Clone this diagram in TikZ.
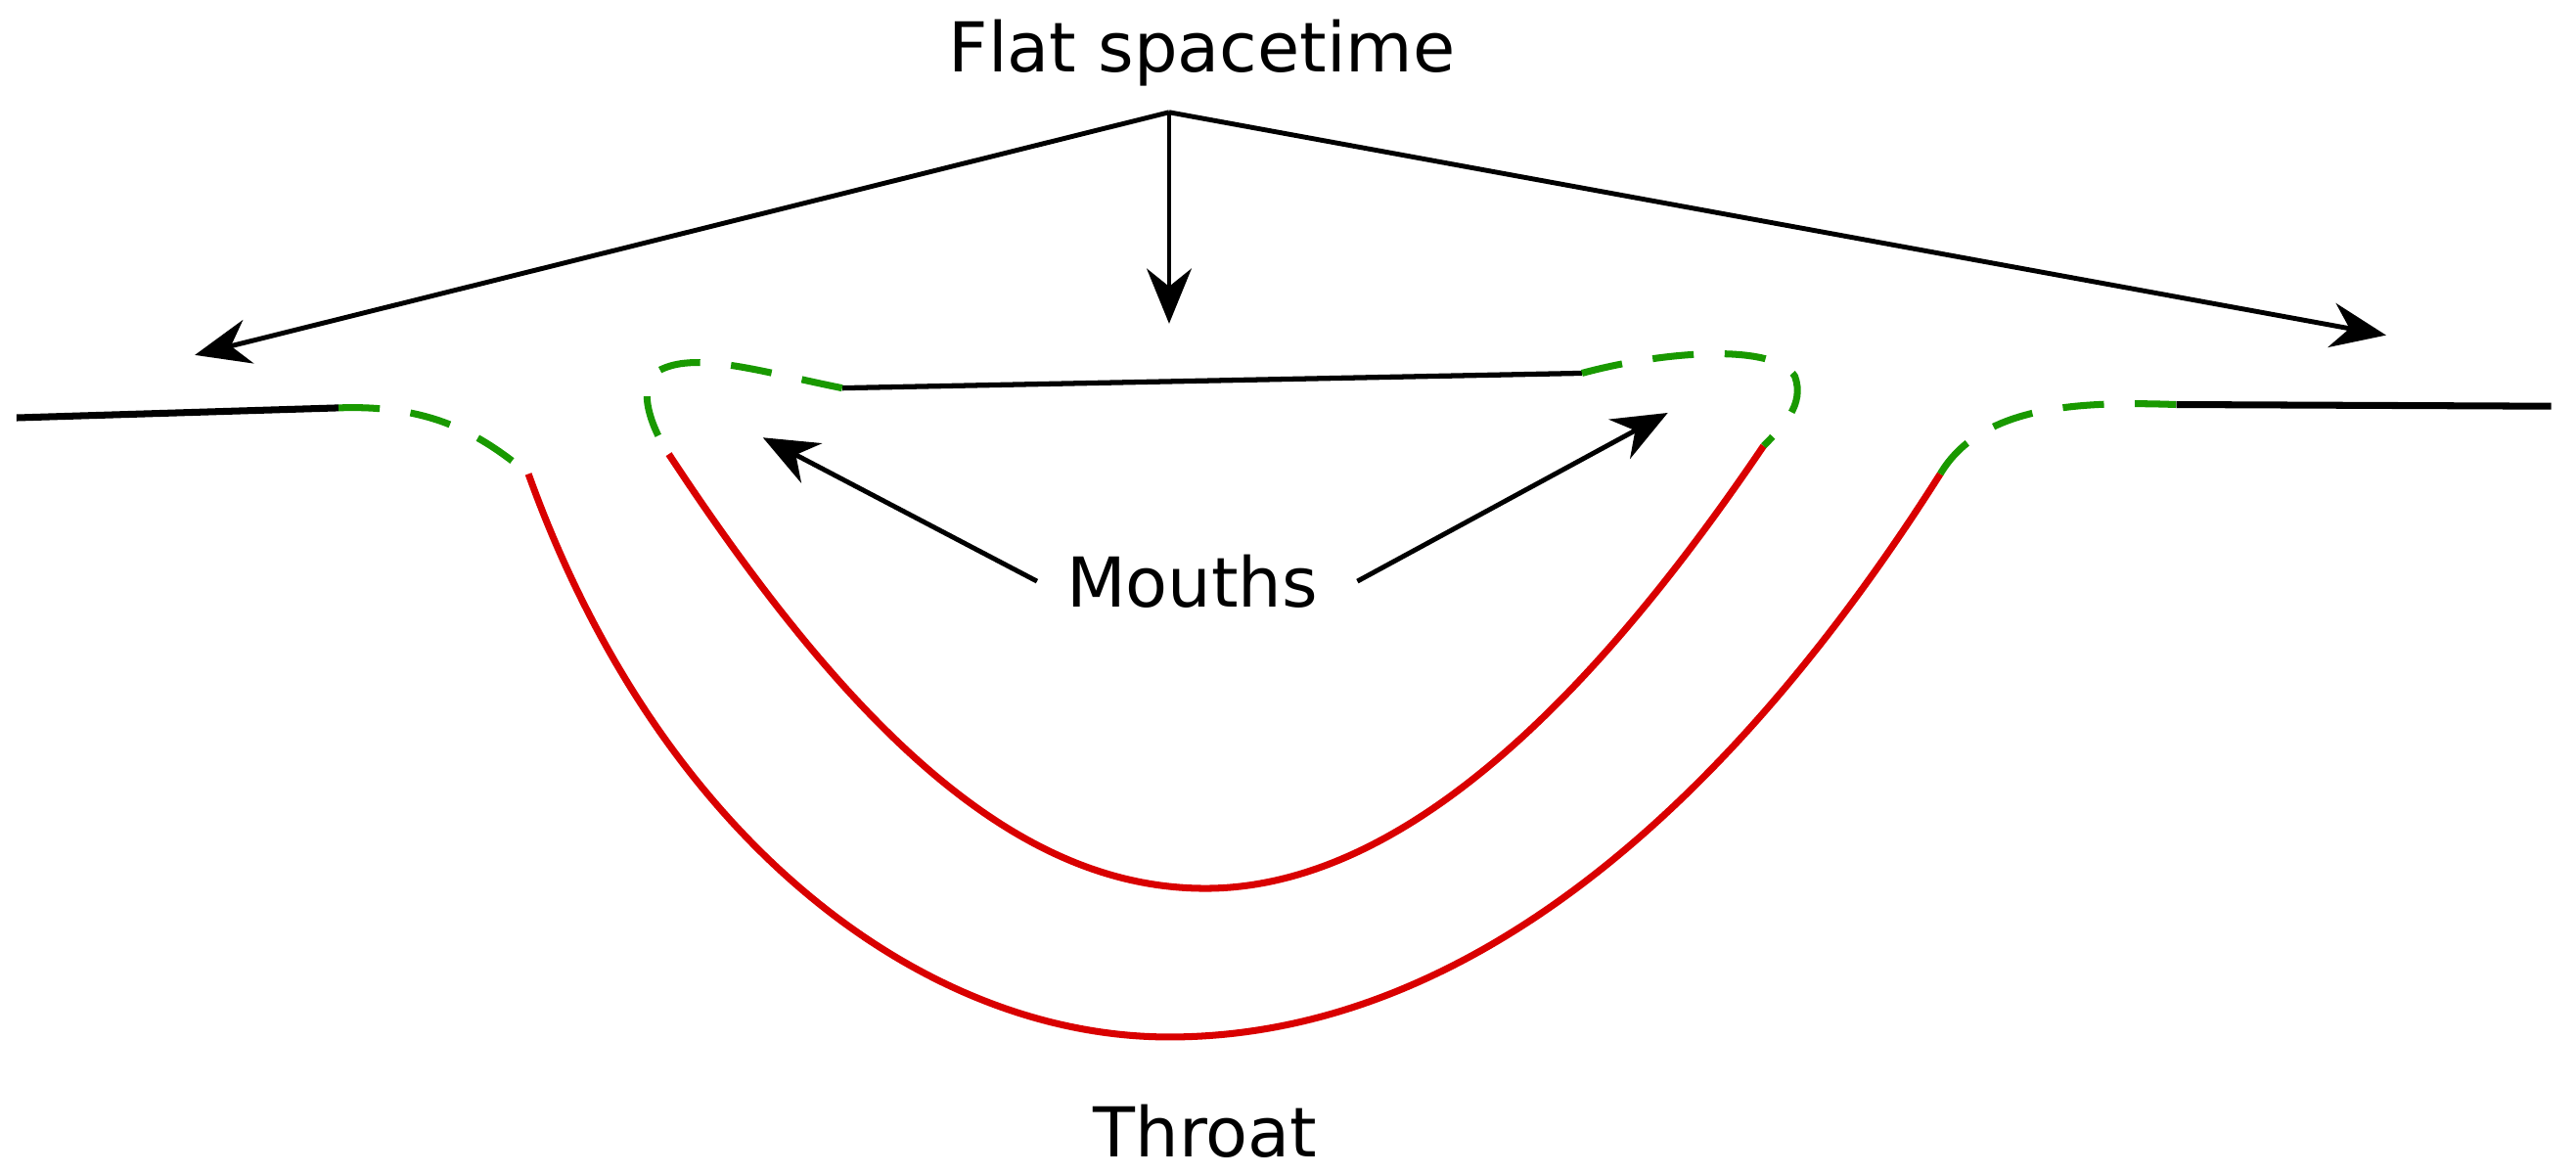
\documentclass[tikz,border=0pt]{standalone}
\usepackage{fontspec}
\setmainfont{DejaVu Sans}
\usetikzlibrary{positioning, calc}
\usetikzlibrary{arrows, arrows.meta}
\definecolor{throatred}{rgb}{0.85, 0.0, 0.0}
\definecolor{mouthgreen}{rgb}{0.1, 0.6, 0.0}
\begin{document}
\begin{tikzpicture}[x=0.016878cm, y=-0.016878cm, font=\fontsize{20}{24}\selectfont, line width=1.2pt]
        % Bounding box
        \useasboundingbox (0,0) rectangle (1560,711);
        \tikzset{
            flat/.style={black, line width=1.5pt},
            mouth/.style={mouthgreen, line width=2pt, dash pattern=on 12pt off 9pt},
            throat/.style={throatred, line width=2pt},
            pointer/.style={black, line width=1.4pt, -{Stealth[length=16pt, width=13pt]}}
        }

        % Labels
        \node (flat) at (728,32) {Flat spacetime};
        \node (mouths) at (722,352) {Mouths};
        \node (throat) at (730,685) {Throat};

        % Coordinates
        \coordinate (apex) at (708,68);
        \coordinate (tleft) at (118,215);
        \coordinate (tmid) at (708,196);
        \coordinate (tright) at (1445,203);
        \coordinate (mleft) at (462,265);
        \coordinate (mright) at (1010,250);
        \coordinate (mfromL) at (628,352);
        \coordinate (mfromR) at (822,352);

        % Outer sheet
        \draw[flat, line width=2pt] (10,253) coordinate (o1) -- (205,247) coordinate (o2);
        \draw[mouth] (o2) .. controls (260,245) and (290,262) .. (320,287) coordinate (o3);
        \draw[throat] (o3) .. controls (400,510) and (560,628) .. (708,628) coordinate (ob)
            .. controls (880,628) and (1040,500) .. (1175,287) coordinate (o4);
        \draw[mouth] (o4) .. controls (1200,245) and (1260,243) .. (1318,245) coordinate (o5);
        \draw[flat, line width=2pt] (o5) -- (1545,246);

        % Inner sheet
        \draw[flat] (510,235) coordinate (i1) -- (958,226) coordinate (i2);
        \draw[mouth] (i1) .. controls (460,225) and (420,212) .. (398,225)
            .. controls (385,235) and (395,260) .. (405,275) coordinate (i3);
        \draw[throat] (i3) .. controls (520,450) and (620,538) .. (730,538) coordinate (ib)
            .. controls (860,538) and (980,400) .. (1068,270) coordinate (i4);
        \draw[mouth] (i2) .. controls (1010,212) and (1075,208) .. (1087,228)
            .. controls (1093,245) and (1080,258) .. (i4);

        % Arrows
        \foreach \t in {tleft, tmid, tright} {
            \draw[pointer] (apex) -- (\t);
        }
        \draw[pointer] (mfromL) -- (mleft);
        \draw[pointer] (mfromR) -- (mright);
    \end{tikzpicture}
\end{document}
